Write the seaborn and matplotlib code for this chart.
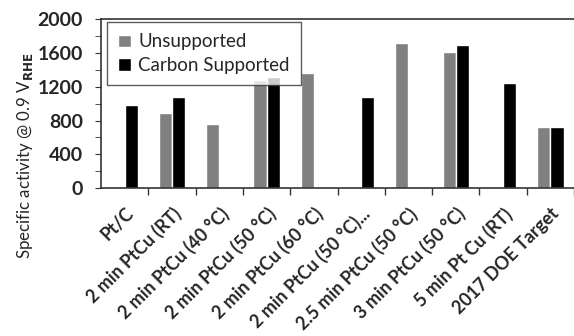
import numpy as np
import pandas as pd
import matplotlib
matplotlib.use('Agg')
import matplotlib.pyplot as plt
from matplotlib.ticker import MultipleLocator
import seaborn as sns

# data
categories = ['Pt/C', '2 min PtCu (RT)', '2 min PtCu (40 °C)', '2 min PtCu (50 °C)',
              '2 min PtCu (60 °C)', '2 min PtCu (50 °C)...', '2.5 min PtCu (50 °C)',
              '3 min PtCu (50 °C)', '5 min Pt Cu (RT)', '2017 DOE Target']
unsupported = [np.nan, 890, 760, 1280, 1360, np.nan, 1720, 1610, np.nan, 720]
carbon = [980, 1080, np.nan, 1310, np.nan, 1080, np.nan, 1690, 1240, 720]

df = pd.DataFrame({'cat': categories * 2,
                   'val': unsupported + carbon,
                   'type': ['Unsupported'] * len(categories) + ['Carbon Supported'] * len(categories)})

sns.set_style('ticks')
plt.rcParams['font.family'] = ['Lato', 'DejaVu Sans']

fig = plt.figure(figsize=(5.74, 3.36), dpi=100)
ax = fig.add_axes([0.176, 0.44, 0.824, 0.503])

sns.barplot(data=df, x='cat', y='val', hue='type', order=categories,
            hue_order=['Unsupported', 'Carbon Supported'],
            palette=['#808080', '#000000'], width=0.56, dodge=True,
            errorbar=None, ax=ax, saturation=1)

ax.set_ylim(0, 2000)
ax.set_xlim(-0.5, len(categories) - 0.5)
ax.yaxis.set_major_locator(MultipleLocator(400))
ax.yaxis.set_minor_locator(MultipleLocator(200))

# category ticks sit between the groups, labels stay centred
ax.set_xticks(np.arange(len(categories)) + 0.5, minor=True)
ax.set_xticks(np.arange(len(categories)))
ax.set_xticklabels(categories, rotation=45, ha='right', rotation_mode='anchor',
                   fontsize=13, fontweight='bold')
ax.tick_params(axis='x', which='major', length=0, pad=12)
ax.tick_params(axis='x', which='minor', length=5, width=1, color='#333333')
ax.tick_params(axis='y', which='major', length=4, pad=9, labelsize=14, color='#333333')
ax.tick_params(axis='y', which='minor', length=4, color='#333333')
for lab in ax.get_yticklabels():
    lab.set_fontweight('bold')

for s in ['left', 'bottom', 'top']:
    ax.spines[s].set_color('#333333')
    ax.spines[s].set_linewidth(1.2)
ax.spines['right'].set_visible(False)

ax.set_xlabel('')
ax.set_ylabel(r'Specific activity @ 0.9 V$_{\mathbf{RHE}}$', fontsize=12.2)
ax.yaxis.set_label_coords(-0.14, 0.19)

leg = ax.legend(loc='upper left', bbox_to_anchor=(0.013, 0.982), fontsize=13.5,
                frameon=True, fancybox=False, handlelength=0.65, handleheight=0.65,
                handletextpad=0.4, borderaxespad=0, borderpad=0.6, labelspacing=0.35)
leg.get_frame().set_edgecolor('#333333')
leg.get_frame().set_linewidth(1.0)

fig.savefig('out.png', dpi=100)
